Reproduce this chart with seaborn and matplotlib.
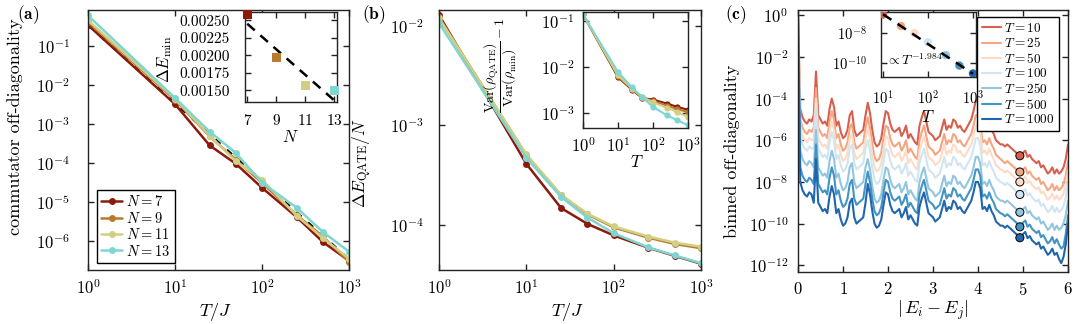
import numpy as np
import pandas as pd
import seaborn as sns
import matplotlib.pyplot as plt
from matplotlib.ticker import FixedLocator, NullLocator, FormatStrFormatter

# ---------------- data ----------------
T_vals = [1, 10, 25, 50, 100, 250, 500, 1000]
N_vals = [7, 9, 11, 13]
N_colors = ['#8b1a0a', '#b87a2e', '#d2cf85', '#7fd6d0']

# (a) commutator off-diagonality
comm_N7 = [0.34, 3.2e-3, 2.8e-4, 9.5e-5, 2.3e-5, 4.1e-6, 9.4e-7, 3.1e-7]
comm_N9 = [0.41, 4.1e-3, 4.8e-4, 1.2e-4, 3.1e-5, 4.6e-6, 1.3e-6, 2.9e-7]
comm_N11 = [0.45, 4.4e-3, 5.0e-4, 1.1e-4, 3.7e-5, 4.4e-6, 1.2e-6, 3.5e-7]
comm_N13 = [0.60, 4.6e-3, 6.3e-4, 1.8e-4, 3.1e-5, 7.1e-6, 1.7e-6, 5.3e-7]
comm_fit_T = [1, 1000]
comm_fit_vals = [0.34, 3.4e-7]

# (a) inset: minimal gap
gap_min = [0.002585, 0.001975, 0.00157, 0.00150]
gap_fit_N = [7, 13.1]
gap_fit_vals = [0.002452, 0.001340]

# (b) energy error per site
dE_N7 = [0.0129, 4.1e-4, 1.47e-4, 1.02e-4, 7.8e-5, 5.85e-5, 4.85e-5, 4.05e-5]
dE_N9 = [0.0122, 5.0e-4, 1.97e-4, 1.27e-4, 9.4e-5, 7.4e-5, 6.4e-5, 5.8e-5]
dE_N11 = [0.0120, 5.1e-4, 2.0e-4, 1.29e-4, 9.6e-5, 7.6e-5, 6.6e-5, 6.0e-5]
dE_N13 = [0.0107, 4.7e-4, 1.9e-4, 1.18e-4, 8.2e-5, 5.9e-5, 4.9e-5, 4.1e-5]

# (b) inset: variance ratio
var_N7 = [0.14, 6.0e-3, 3.2e-3, 2.1e-3, 1.95e-3, 1.6e-3, 1.35e-3, 1.17e-3]
var_N9 = [0.14, 6.3e-3, 3.3e-3, 2.15e-3, 1.8e-3, 1.45e-3, 1.2e-3, 1.05e-3]
var_N11 = [0.14, 6.6e-3, 3.4e-3, 2.2e-3, 1.7e-3, 1.3e-3, 1.05e-3, 8.1e-4]
var_N13 = [0.14, 7.8e-3, 3.6e-3, 2.2e-3, 1.35e-3, 8.9e-4, 6.9e-4, 5.4e-4]

# (c) binned off-diagonality, log10 values on bins of width 0.05
T_c = [10, 25, 50, 100, 250, 500, 1000]
T_colors = ['#d6604d', '#f4a582', '#fddbc7', '#d1e5f0', '#92c5de', '#4393c3', '#2166ac']
energy_bins = np.round(np.arange(121) * 0.05, 2)

log_T10 = [0.0, -4.5, -4.9, -5.1, -5.2, -5.0, -5.1, -4.8, -2.7, -4.8,
           -5.0, -5.2, -5.1, -5.3, -4.5, -4.0, -4.4, -5.3, -5.1, -5.6,
           -5.9, -5.8, -5.5, -4.8, -4.6, -5.5, -5.8, -5.7, -5.6, -5.5,
           -4.8, -4.2, -4.7, -5.5, -6.1, -6.3, -6.2, -5.9, -5.2, -4.6,
           -4.7, -5.2, -5.5, -5.6, -5.5, -5.4, -5.8, -5.6, -5.3, -5.9,
           -5.7, -5.9, -6.1, -6.2, -5.3, -4.9, -4.6, -5.1, -5.6, -5.7,
           -5.8, -6.0, -5.9, -5.8, -5.4, -5.0, -5.5, -5.3, -5.4, -5.0,
           -5.1, -5.4, -5.3, -5.5, -5.6, -5.4, -5.2, -5.0, -4.6, -4.1,
           -4.1, -4.4, -5.4, -5.3, -5.5, -5.2, -5.5, -5.7, -6.0, -6.1,
           -6.2, -6.2, -6.3, -6.2, -6.3, -6.4, -6.5, -6.6, -6.7, -6.8,
           -6.6, -6.5, -6.8, -6.7, -6.9, -7.0, -7.1, -7.0, -7.3, -7.2,
           -7.4, -7.6, -7.5, -7.3, -7.6, -7.4, -7.6, -7.5, -7.3, -6.9,
           -6.2]
log_T25 = [0.0, -5.0, -5.4, -5.6, -5.7, -5.5, -5.6, -5.4, -3.5, -5.4,
           -5.6, -5.8, -5.7, -5.9, -5.1, -4.6, -5.0, -5.9, -5.7, -6.2,
           -6.5, -6.4, -6.1, -5.4, -5.2, -6.1, -6.4, -6.3, -6.2, -6.1,
           -5.4, -4.9, -5.4, -6.2, -6.8, -7.0, -6.9, -6.6, -5.9, -5.3,
           -5.4, -5.9, -6.2, -6.3, -6.2, -6.1, -6.5, -6.3, -6.0, -6.6,
           -6.4, -6.6, -6.8, -6.9, -6.0, -5.6, -5.3, -5.8, -6.3, -6.4,
           -6.5, -6.7, -6.6, -6.5, -6.1, -5.7, -6.2, -6.0, -6.1, -5.7,
           -5.8, -6.1, -6.0, -6.2, -6.3, -6.1, -5.9, -5.7, -5.3, -4.8,
           -4.8, -5.1, -6.1, -6.0, -6.2, -5.9, -6.2, -6.4, -6.7, -6.8,
           -6.9, -7.0, -7.1, -7.0, -7.1, -7.2, -7.3, -7.4, -7.5, -7.6,
           -7.4, -7.3, -7.6, -7.5, -7.7, -7.8, -7.9, -7.8, -8.1, -8.0,
           -8.2, -8.4, -8.3, -8.1, -8.4, -8.2, -8.4, -8.3, -8.1, -7.7,
           -7.0]
log_T50 = [0.0, -5.4, -5.8, -6.0, -6.1, -5.9, -6.0, -5.9, -4.0, -5.9,
           -6.1, -6.3, -6.2, -6.4, -5.6, -5.1, -5.5, -6.4, -6.2, -6.7,
           -7.0, -6.9, -6.6, -5.9, -5.7, -6.6, -6.9, -6.8, -6.7, -6.6,
           -5.9, -5.4, -5.9, -6.7, -7.3, -7.5, -7.4, -7.1, -6.4, -5.8,
           -5.9, -6.4, -6.7, -6.8, -6.7, -6.6, -7.0, -6.8, -6.5, -7.1,
           -6.9, -7.1, -7.3, -7.4, -6.5, -6.1, -5.8, -6.3, -6.8, -6.9,
           -7.0, -7.2, -7.1, -7.0, -6.6, -6.2, -6.7, -6.5, -6.6, -6.2,
           -6.3, -6.6, -6.5, -6.7, -6.8, -6.6, -6.4, -6.2, -5.8, -5.3,
           -5.3, -5.6, -6.6, -6.5, -6.7, -6.4, -6.7, -6.9, -7.2, -7.3,
           -7.4, -7.45, -7.55, -7.45, -7.55, -7.65, -7.75, -7.85, -7.95, -8.05,
           -7.85, -7.75, -8.05, -7.95, -8.15, -8.25, -8.35, -8.25, -8.55, -8.45,
           -8.65, -8.85, -8.75, -8.55, -8.85, -8.65, -8.85, -8.75, -8.55, -8.15,
           -7.45]
log_T100 = [0.0, -5.8, -6.2, -6.4, -6.5, -6.3, -6.4, -6.4, -4.5, -6.4,
            -6.6, -6.8, -6.7, -6.9, -6.1, -5.6, -6.0, -6.9, -6.7, -7.2,
            -7.5, -7.4, -7.1, -6.4, -6.2, -7.1, -7.4, -7.3, -7.2, -7.1,
            -6.4, -6.0, -6.5, -7.3, -7.9, -8.1, -8.0, -7.7, -7.0, -6.4,
            -6.5, -7.0, -7.3, -7.4, -7.3, -7.2, -7.6, -7.4, -7.1, -7.7,
            -7.5, -7.7, -7.9, -8.0, -7.1, -6.7, -6.4, -6.9, -7.4, -7.5,
            -7.6, -7.8, -7.7, -7.6, -7.2, -6.8, -7.3, -7.1, -7.2, -6.8,
            -6.9, -7.2, -7.1, -7.3, -7.4, -7.2, -7.0, -6.8, -6.4, -5.9,
            -5.9, -6.2, -7.2, -7.1, -7.3, -7.0, -7.3, -7.5, -7.8, -7.9,
            -8.0, -8.05, -8.15, -8.05, -8.15, -8.25, -8.35, -8.45, -8.55, -8.65,
            -8.45, -8.35, -8.65, -8.55, -8.75, -8.85, -8.95, -8.85, -9.15, -9.05,
            -9.25, -9.45, -9.35, -9.15, -9.45, -9.25, -9.45, -9.35, -9.15, -8.75,
            -8.05]
log_T250 = [0.0, -6.5, -6.9, -7.1, -7.2, -7.0, -7.1, -7.3, -5.5, -7.3,
            -7.5, -7.7, -7.6, -7.8, -7.0, -6.5, -6.9, -7.8, -7.6, -8.1,
            -8.4, -8.3, -8.0, -7.3, -7.1, -8.0, -8.3, -8.2, -8.1, -8.0,
            -7.3, -6.9, -7.4, -8.2, -8.8, -9.0, -8.9, -8.6, -7.9, -7.3,
            -7.4, -7.9, -8.2, -8.3, -8.2, -8.1, -8.5, -8.3, -8.0, -8.6,
            -8.4, -8.6, -8.8, -8.9, -8.0, -7.6, -7.3, -7.8, -8.3, -8.4,
            -8.5, -8.7, -8.6, -8.5, -8.1, -7.7, -8.2, -8.0, -8.1, -7.7,
            -7.8, -8.1, -8.0, -8.2, -8.3, -8.1, -7.9, -7.7, -7.3, -6.8,
            -6.8, -7.1, -8.1, -8.0, -8.2, -7.9, -8.2, -8.4, -8.7, -8.8,
            -8.9, -8.9, -9.0, -8.9, -9.0, -9.1, -9.2, -9.3, -9.4, -9.5,
            -9.3, -9.2, -9.5, -9.4, -9.6, -9.7, -9.8, -9.7, -10.0, -9.9,
            -10.1, -10.3, -10.2, -10.0, -10.3, -10.1, -10.3, -10.2, -10.0, -9.6,
            -8.9]
log_T500 = [0.0, -7.3, -7.7, -7.9, -8.0, -7.8, -7.9, -8.1, -6.2, -8.1,
            -8.3, -8.5, -8.4, -8.6, -7.8, -7.3, -7.7, -8.6, -8.4, -8.9,
            -9.2, -9.1, -8.8, -8.1, -7.9, -8.8, -9.1, -9.0, -8.9, -8.8,
            -8.1, -7.5, -8.0, -8.8, -9.4, -9.6, -9.5, -9.2, -8.5, -7.9,
            -8.0, -8.5, -8.8, -8.9, -8.8, -8.7, -9.1, -8.9, -8.6, -9.2,
            -9.0, -9.2, -9.4, -9.5, -8.6, -8.2, -7.9, -8.4, -8.9, -9.0,
            -9.1, -9.3, -9.2, -9.1, -8.7, -8.3, -8.8, -8.6, -8.7, -8.3,
            -8.4, -8.7, -8.6, -8.8, -8.9, -8.7, -8.5, -8.3, -7.9, -7.4,
            -7.4, -7.7, -8.7, -8.6, -8.8, -8.5, -8.8, -9.0, -9.3, -9.4,
            -9.5, -9.55, -9.65, -9.55, -9.65, -9.75, -9.85, -9.95, -10.05, -10.15,
            -9.95, -9.85, -10.15, -10.05, -10.25, -10.35, -10.45, -10.35, -10.65, -10.55,
            -10.75, -10.95, -10.85, -10.65, -10.95, -10.75, -11.0, -11.2, -11.1, -10.5,
            -9.6]
log_T1000 = [0.0, -8.0, -8.4, -8.6, -8.7, -8.5, -8.6, -9.0, -6.9, -9.0,
             -9.2, -9.4, -9.3, -9.5, -8.7, -8.2, -8.6, -9.5, -9.3, -9.8,
             -10.1, -10.0, -9.7, -9.0, -8.8, -9.7, -10.0, -9.9, -9.8, -9.7,
             -9.0, -8.1, -8.6, -9.4, -10.0, -10.2, -10.1, -9.8, -9.1, -8.5,
             -8.6, -9.1, -9.4, -9.5, -9.4, -9.3, -9.7, -9.5, -9.2, -9.8,
             -9.6, -9.8, -10.0, -10.1, -9.2, -8.8, -8.5, -9.0, -9.5, -9.6,
             -9.7, -9.9, -9.8, -9.7, -9.3, -8.9, -9.4, -9.2, -9.3, -8.9,
             -9.0, -9.3, -9.2, -9.4, -9.5, -9.3, -9.1, -8.9, -8.5, -8.0,
             -8.0, -8.3, -9.3, -9.2, -9.4, -9.1, -9.4, -9.6, -9.9, -10.0,
             -10.1, -10.1, -10.2, -10.1, -10.2, -10.3, -10.4, -10.5, -10.6, -10.7,
             -10.5, -10.4, -10.7, -10.6, -10.8, -10.9, -11.0, -10.9, -11.2, -11.1,
             -11.3, -11.5, -11.4, -11.2, -11.5, -11.4, -11.7, -11.9, -11.6, -11.0,
             -10.0]

# (c) values at the marked energy, also shown in the inset
marked_E = [4.93, 4.93, 4.93, 4.93, 4.93, 4.93, 4.93]
marked_vals = [1.8e-7, 3.0e-8, 1.0e-8, 2.5e-9, 3.5e-10, 7.0e-11, 2.1e-11]
fit_c_T = [10, 1000]
fit_c_vals = [1.8e-7, 2.0e-11]

# ---------------- style ----------------
sns.set_theme(style='ticks')
plt.rcParams.update({
    'font.family': ['cmr10', 'DejaVu Serif'],
    'mathtext.fontset': 'cm',
    'axes.unicode_minus': False,
    'axes.formatter.use_mathtext': True,
    'axes.edgecolor': '#222222',
    'axes.linewidth': 1.0,
    'axes.labelcolor': 'black',
    'text.color': 'black',
    'xtick.color': '#222222',
    'ytick.color': '#222222',
    'xtick.labelcolor': 'black',
    'ytick.labelcolor': 'black',
})


def style_axis(ax, size, xpad, ypad):
    ax.tick_params(which='major', direction='in', top=True, right=True,
                   length=4, width=1.0, labelsize=size)
    ax.tick_params(axis='x', pad=xpad)
    ax.tick_params(axis='y', pad=ypad)
    ax.tick_params(which='minor', length=0)


def log_ticks(axis, ticks):
    axis.set_major_locator(FixedLocator(ticks))
    axis.set_minor_locator(NullLocator())


def inset_label(ax, x, y, text, size, rot=0):
    ax.text(x, y, text, transform=ax.transAxes, fontsize=size, rotation=rot,
            ha='center', va='center')


fig = plt.figure(figsize=(10.8, 3.24), dpi=100)

# ---------------- (a) ----------------
ax_a = fig.add_axes([0.0815, 0.1667, 0.2417, 0.8025])
ax_a.plot(comm_fit_T, comm_fit_vals, color='black', lw=1.6, ls=(0, (3, 4)), zorder=1)
for N, vals, col in zip(N_vals, [comm_N7, comm_N9, comm_N11, comm_N13], N_colors):
    sns.lineplot(x=T_vals, y=vals, color=col, marker='o', markersize=5,
                 markeredgewidth=0, linewidth=1.8, label=f'$N={N}$', ax=ax_a)
ax_a.set_xscale('log')
ax_a.set_yscale('log')
ax_a.set_xlim(1, 1000)
ax_a.set_ylim(1.8e-7, 0.83)
log_ticks(ax_a.xaxis, [1, 10, 100, 1000])
log_ticks(ax_a.yaxis, [1e-6, 1e-5, 1e-4, 1e-3, 1e-2, 1e-1])
style_axis(ax_a, 12, 5.5, 13)
ax_a.set_xlabel(r'$T/J$', fontsize=13)
ax_a.set_ylabel('commutator off-diagonality', fontsize=13)
ax_a.xaxis.set_label_coords(0.49, -0.12)
ax_a.yaxis.set_label_coords(-0.25, 0.55)
leg = ax_a.legend(loc='lower left', bbox_to_anchor=(0.034, 0.027), borderaxespad=0,
                  fancybox=False, edgecolor='black', framealpha=1, fontsize=10.5,
                  handlelength=1.45, handletextpad=0.25, labelspacing=0.1, borderpad=0.3)
leg.get_frame().set_linewidth(1.0)

ax_ia = fig.add_axes([0.2269, 0.685, 0.0852, 0.278])
ax_ia.plot(gap_fit_N, gap_fit_vals, color='black', lw=1.8, ls=(0, (4, 3)), zorder=1)
sns.scatterplot(x=N_vals, y=gap_min, hue=N_vals, palette=dict(zip(N_vals, N_colors)),
                marker='s', s=42, linewidth=0, legend=False, ax=ax_ia, zorder=3, clip_on=False)
ax_ia.set_xlim(6.85, 13.2)
ax_ia.set_ylim(0.001333, 0.00262)
ax_ia.set_xticks([7, 9, 11, 13])
ax_ia.set_yticks([0.0015, 0.00175, 0.002, 0.00225, 0.0025])
ax_ia.yaxis.set_major_formatter(FormatStrFormatter('%.5f'))
style_axis(ax_ia, 11, 8, 11)
inset_label(ax_ia, 0.49, -0.39, r'$N$', 12)
inset_label(ax_ia, -0.87, 0.47, r'$\Delta E_{\min}$', 12, rot=90)

# ---------------- (b) ----------------
ax_b = fig.add_axes([0.4065, 0.1667, 0.2426, 0.8025])
for N, vals, col in zip(N_vals, [dE_N7, dE_N9, dE_N11, dE_N13], N_colors):
    sns.lineplot(x=T_vals, y=vals, color=col, marker='o', markersize=5,
                 markeredgewidth=0, linewidth=1.8, ax=ax_b)
ax_b.set_xscale('log')
ax_b.set_yscale('log')
ax_b.set_xlim(1, 1000)
ax_b.set_ylim(3.5e-5, 1.45e-2)
log_ticks(ax_b.xaxis, [1, 10, 100, 1000])
log_ticks(ax_b.yaxis, [1e-4, 1e-3, 1e-2])
style_axis(ax_b, 12, 5.5, 11)
ax_b.set_xlabel(r'$T/J$', fontsize=13)
ax_b.set_ylabel(r'$\Delta E_{\mathrm{QATE}}/N$', fontsize=12.5)
ax_b.xaxis.set_label_coords(0.49, -0.12)
ax_b.yaxis.set_label_coords(-0.25, 0.41)

ax_ib = fig.add_axes([0.5398, 0.605, 0.0972, 0.358])
for N, vals, col in zip(N_vals, [var_N7, var_N9, var_N11, var_N13], N_colors):
    sns.lineplot(x=T_vals, y=vals, color=col, marker='o', markersize=4.5,
                 markeredgewidth=0, linewidth=1.5, ax=ax_ib)
ax_ib.set_xscale('log')
ax_ib.set_yscale('log')
ax_ib.set_xlim(1, 1000)
ax_ib.set_ylim(4.7e-4, 0.158)
log_ticks(ax_ib.xaxis, [1, 10, 100, 1000])
log_ticks(ax_ib.yaxis, [1e-3, 1e-2, 1e-1])
style_axis(ax_ib, 12, 6, 6)
inset_label(ax_ib, 0.51, -0.29, r'$T$', 12)
inset_label(ax_ib, -0.79, 0.54,
            r'$\dfrac{\mathrm{Var}(\rho_{\mathrm{QATE}})}{\mathrm{Var}(\rho_{\min})}-1$',
            10, rot=90)

# ---------------- (c) ----------------
ax_c = fig.add_axes([0.7389, 0.1620, 0.25, 0.807])
for T, logs, col in zip(T_c, [log_T10, log_T25, log_T50, log_T100, log_T250, log_T500, log_T1000],
                        T_colors):
    sns.lineplot(x=energy_bins, y=np.power(10.0, logs), color=col, linewidth=1.5,
                 label=f'$T={T}$', ax=ax_c)
sns.scatterplot(x=marked_E, y=marked_vals, hue=T_c, palette=dict(zip(T_c, T_colors)),
                s=34, edgecolor='black', linewidth=0.7, legend=False, ax=ax_c, zorder=5)
ax_c.set_yscale('log')
ax_c.set_xlim(0, 6)
ax_c.set_ylim(10 ** -12.3, 10 ** 0.25)
ax_c.set_xticks([0, 1, 2, 3, 4, 5, 6])
log_ticks(ax_c.yaxis, [1e0, 1e-2, 1e-4, 1e-6, 1e-8, 1e-10, 1e-12])
style_axis(ax_c, 12, 7, 7)
ax_c.set_xlabel(r'$|\,E_i-E_j|$', fontsize=13)
ax_c.set_ylabel('binned off-diagonality', fontsize=13)
ax_c.xaxis.set_label_coords(0.5, -0.105)
ax_c.yaxis.set_label_coords(-0.215, 0.46)
leg = ax_c.legend(loc='upper right', bbox_to_anchor=(0.967, 0.973), borderaxespad=0,
                  fancybox=False, edgecolor='black', framealpha=1, fontsize=9.5,
                  handlelength=1.5, handletextpad=0.2, labelspacing=0.12, borderpad=0.35)
leg.get_frame().set_linewidth(1.0)

ax_ic = fig.add_axes([0.8157, 0.762, 0.088, 0.2006])
sns.scatterplot(x=T_c, y=marked_vals, hue=T_c, palette=dict(zip(T_c, T_colors)),
                s=36, linewidth=0, legend=False, ax=ax_ic, zorder=3)
ax_ic.plot(fit_c_T, fit_c_vals, color='black', lw=1.8, ls=(0, (4, 3)), zorder=4)
ax_ic.set_xscale('log')
ax_ic.set_yscale('log')
ax_ic.set_xlim(9, 1170)
ax_ic.set_ylim(1.2e-11, 2.5e-7)
log_ticks(ax_ic.xaxis, [10, 100, 1000])
log_ticks(ax_ic.yaxis, [1e-10, 1e-8])
style_axis(ax_ic, 10.5, 9, 10)
inset_label(ax_ic, 0.49, -0.62, r'$T$', 12)
ax_ic.text(0.05, 0.26, r'$\propto T^{-1.984}$', transform=ax_ic.transAxes,
           fontsize=10, va='center', ha='left')

# panel letters
fig.text(0.016, 0.955, r'$\mathbf{(a)}$', fontsize=12.5, va='center')
fig.text(0.335, 0.955, r'$\mathbf{(b)}$', fontsize=12.5, va='center')
fig.text(0.671, 0.955, r'$\mathbf{(c)}$', fontsize=12.5, va='center')

fig.savefig('out.png', dpi=100)
